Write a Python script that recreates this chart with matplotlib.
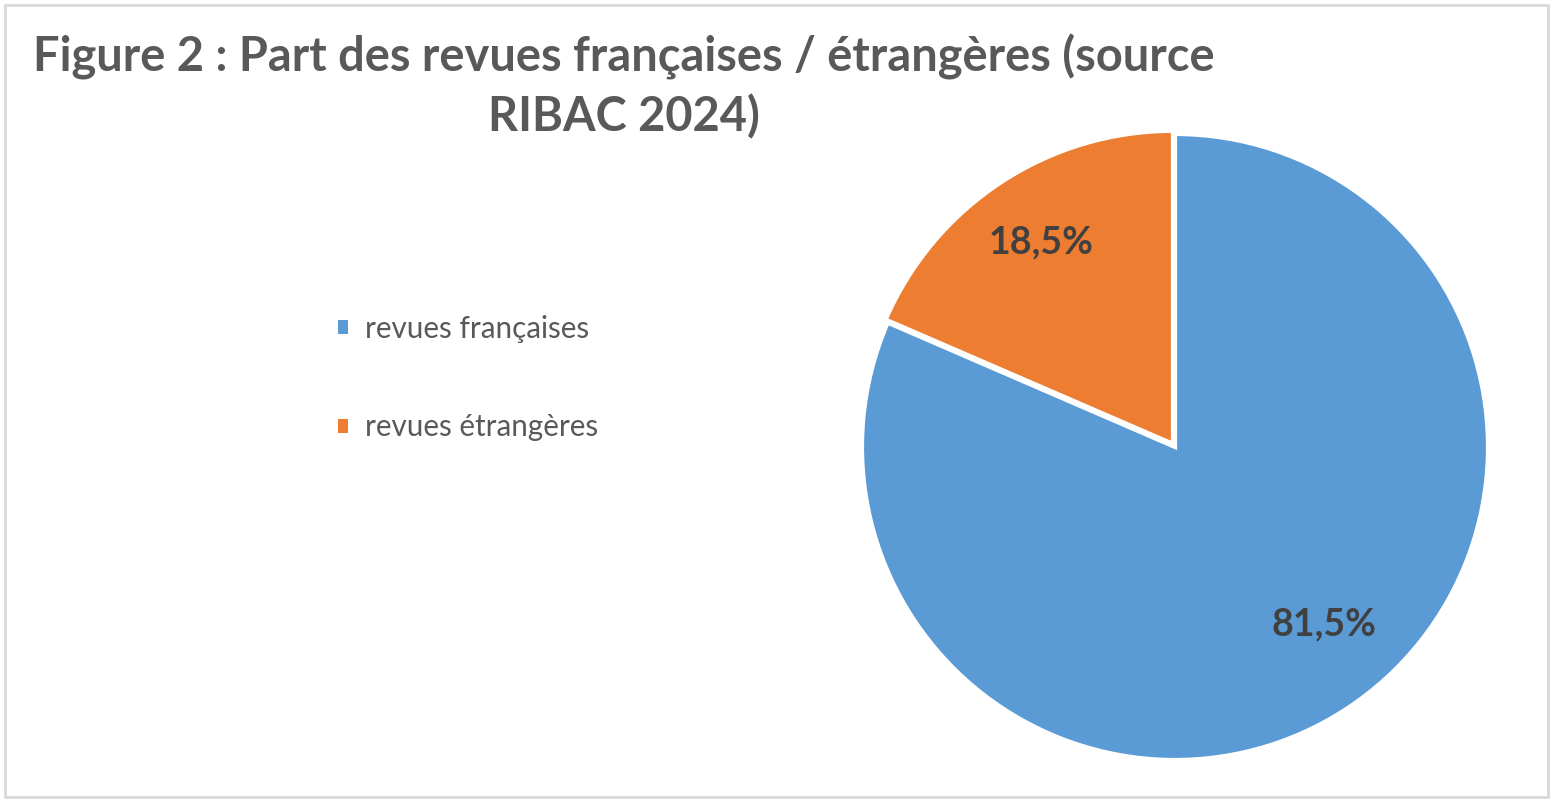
import numpy as np
import matplotlib
matplotlib.use("Agg")
import matplotlib.pyplot as plt
from matplotlib.patches import Rectangle, Patch

# ------------------------------------------------------------
# Data
# ------------------------------------------------------------
categories = ["revues françaises", "revues étrangères"]
shares = [81.5, 18.5]
colors = ["#5B9BD5", "#ED7D31"]
title = "Figure 2 : Part des revues françaises / étrangères (source\nRIBAC 2024)"

FONT = ["Lato", "DejaVu Sans"]
GREY = "#595959"

W, H = 1553, 802
fig = plt.figure(figsize=(W / 100, H / 100), dpi=100)

# outer frame
fig.patches.append(Rectangle((5 / W, 5 / H), (W - 10) / W, (H - 10) / H,
                             transform=fig.transFigure, fill=False,
                             edgecolor="#D9D9D9", linewidth=2))

# title
fig.text(624 / W, 1 - 87 / H, title, ha="center", va="center",
         fontsize=33.8, fontweight="bold", color=GREY, family=FONT,
         linespacing=1.38)

# pie
cx, cy, r = 1175, 447, 313
ax = fig.add_axes([(cx - r) / W, 1 - (cy + r) / H, 2 * r / W, 2 * r / H])
wedges, _, autotexts = ax.pie(
    shares,
    colors=colors,
    startangle=90,
    counterclock=False,
    explode=[0, 0.012],
    autopct=lambda p: f"{p:.1f}%".replace(".", ","),
    pctdistance=0.77,
    wedgeprops=dict(edgecolor="white", linewidth=3),
    radius=1.0,
)
for t in autotexts:
    t.set_fontsize(27)
    t.set_fontweight("bold")
    t.set_color("#404040")
    t.set_family(FONT)
# label of the large slice sits nearer the lower right, as in the source
a = np.deg2rad(-50)
autotexts[0].set_position((0.74 * np.cos(a), 0.74 * np.sin(a)))
ax.set_xlim(-1, 1)
ax.set_ylim(-1, 1)
ax.set_aspect("equal")

# legend
handles = [Patch(facecolor=c, edgecolor="none", label=l)
           for c, l in zip(colors, categories)]
fig.legend(handles=handles, loc="upper left",
           bbox_to_anchor=(338 / W, 1 - 315 / H),
           frameon=False, labelspacing=2.38, handlelength=0.35,
           handleheight=0.35, handletextpad=0.55,
           borderpad=0, borderaxespad=0,
           prop=dict(family=FONT, size=21.3), labelcolor=GREY)

fig.savefig("out.png", dpi=100)
